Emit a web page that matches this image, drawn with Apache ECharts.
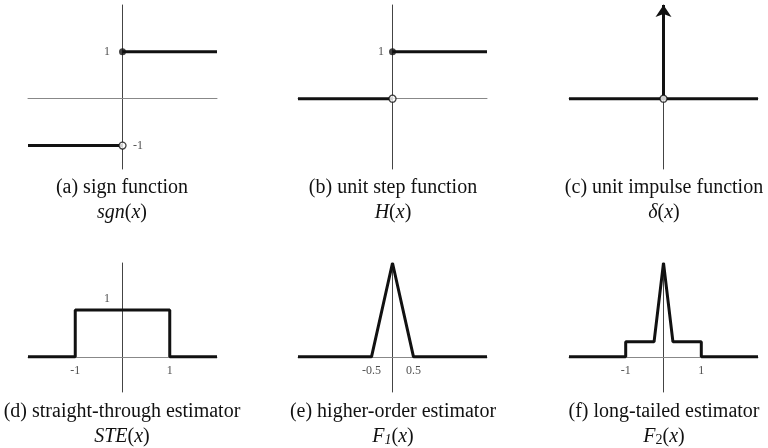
<!DOCTYPE html>
<html>
<head>
<meta charset="utf-8">
<script src="https://cdn.jsdelivr.net/npm/echarts@6/dist/echarts.min.js"></script>
<style>
  html, body { margin: 0; padding: 0; background: #fff; }
  #chart { width: 768px; height: 448px; }
</style>
</head>
<body>
<div id="chart"></div>
<script>
        // data
        var sgnNeg = [[-2, -1], [0, -1]];
        var sgnPos = [[0, 1], [2, 1]];
        var stepNeg = [[-2, 0], [0, 0]];
        var stepPos = [[0, 1], [2, 1]];
        var impulseBase = [[-2, 0], [2, 0]];
        var impulseSpike = [[0, 0], [0, 2]];
        var steLine = [[-2, 0], [-1, 0], [-1, 1], [1, 1], [1, 0], [2, 0]];
        var f1Line = [[-2.25, 0], [-0.5, 0], [0, 2], [0.5, 0], [2.25, 0]];
        var f2Line = [[-2.5, 0], [-1, 0], [-1, 0.32], [-0.25, 0.32], [0, 2], [0.25, 0.32], [1, 0.32], [1, 0], [2.5, 0]];
        var xRanges = [[-2, 2], [-2, 2], [-2, 2], [-2, 2], [-2.25, 2.25], [-2.5, 2.5]];
        var xTickValues = [[], [], [], [-1, 1], [-0.5, 0.5], [-1, 1]];
        var captions = ["(a) sign function", "(b) unit step function", "(c) unit impulse function",
                        "(d) straight-through estimator", "(e) higher-order estimator", "(f) long-tailed estimator"];
        var names = ["{i|sgn}({i|x})", "{i|H}({i|x})", "{i|\u03b4}({i|x})",
                     "{i|STE}({i|x})", "{i|F}{sub|1}({i|x})", "{i|F}{s2|2}({i|x})"];

        var serif = "'Liberation Serif', 'DejaVu Serif', serif";
        var ink = "#111";
        var lefts = [28, 298, 569];
        var centers = [122, 393, 664];
        var grids = [], xAxes = [], yAxes = [], series = [], graphics = [];

        function labels(idx, data, pos, dist, offset) {
            return {type: 'scatter', xAxisIndex: idx, yAxisIndex: idx, data: data, symbolSize: 1, silent: true,
                    itemStyle: {color: 'rgba(0,0,0,0)'},
                    label: {show: true, position: pos, distance: dist, offset: offset || [0, 0],
                            formatter: '{b}', color: '#222', fontFamily: serif, fontSize: 12}};
        }

        for (var i = 0; i < 6; i++) {
            var gTop = i < 3 ? 5 : 263;
            var gH = i < 3 ? 164 : 129;
            grids.push({left: lefts[i % 3], top: gTop, width: 189, height: gH});
            xAxes.push({
                type: 'value', gridIndex: i, min: xRanges[i][0], max: xRanges[i][1],
                axisLine: {onZero: true, lineStyle: {color: '#888', width: 1}},
                axisTick: {show: false}, splitLine: {show: false}, axisLabel: {show: false}
            });
            yAxes.push({
                type: 'value', gridIndex: i, min: i < 3 ? -1.5 : -0.75, max: 2,
                axisLine: {onZero: true, lineStyle: {color: '#444', width: 1}},
                axisTick: {show: false}, splitLine: {show: false}, axisLabel: {show: false}
            });
            if (xTickValues[i].length) {
                series.push(labels(i, xTickValues[i].map(function (v) {
                    return {name: String(v), value: [v, 0]};
                }), 'bottom', 8));
            }
            var cy = i < 3 ? 188 : 412;
            graphics.push({type: 'text', x: centers[i % 3], y: cy,
                style: {text: captions[i], font: '20px ' + serif, fill: ink, align: 'center', verticalAlign: 'middle'}});
            graphics.push({type: 'text', x: centers[i % 3], y: cy + 25,
                style: {text: names[i], font: '20px ' + serif, fill: ink, align: 'center', verticalAlign: 'middle',
                    rich: {
                        i: {fontStyle: 'italic', fontFamily: serif, fontSize: 20},
                        sub: {fontStyle: 'italic', fontFamily: serif, fontSize: 14, verticalAlign: 'bottom'},
                        s2: {fontFamily: serif, fontSize: 14, verticalAlign: 'bottom'}
                    }}});
        }

        function thick(idx, data) {
            return {type: 'line', xAxisIndex: idx, yAxisIndex: idx, data: data, symbol: 'none', silent: true,
                    lineStyle: {color: ink, width: 3}, z: 3};
        }
        function dots(idx, data, open) {
            return {type: 'scatter', xAxisIndex: idx, yAxisIndex: idx, data: data, symbolSize: 7, silent: true, z: 5,
                    itemStyle: open ? {color: '#fff', borderColor: ink, borderWidth: 1.3} : {color: ink}};
        }

        // (a)
        series.push(thick(0, sgnNeg), thick(0, sgnPos));
        series.push(dots(0, [sgnPos[0]], false), dots(0, [sgnNeg[1]], true));
        series.push(labels(0, [{name: '1', value: sgnPos[0]}], 'left', 12));
        series.push(labels(0, [{name: '-1', value: sgnNeg[1]}], 'right', 10));
        // (b)
        series.push(thick(1, stepNeg), thick(1, stepPos));
        series.push(dots(1, [stepPos[0]], false), dots(1, [stepNeg[1]], true));
        series.push(labels(1, [{name: '1', value: stepPos[0]}], 'left', 8));
        // (c)
        var base = thick(2, impulseBase);
        base.markLine = {silent: true, symbol: ['none', 'arrow'], symbolSize: 12, label: {show: false},
            lineStyle: {color: ink, width: 3, type: 'solid'},
            data: [[{coord: impulseSpike[0]}, {coord: impulseSpike[1]}]]};
        series.push(base);
        series.push(dots(2, [impulseSpike[0]], true));
        // (d)
        series.push(thick(3, steLine));
        series.push(labels(3, [{name: '1', value: [0, 1]}], 'left', 12, [0, -11]));
        // (e), (f)
        series.push(thick(4, f1Line), thick(5, f2Line));

        var chart = echarts.init(document.getElementById('chart'));
        chart.setOption({
            animation: false,
            grid: grids, xAxis: xAxes, yAxis: yAxes,
            series: series, graphic: graphics
        });
</script>
</body>
</html>
